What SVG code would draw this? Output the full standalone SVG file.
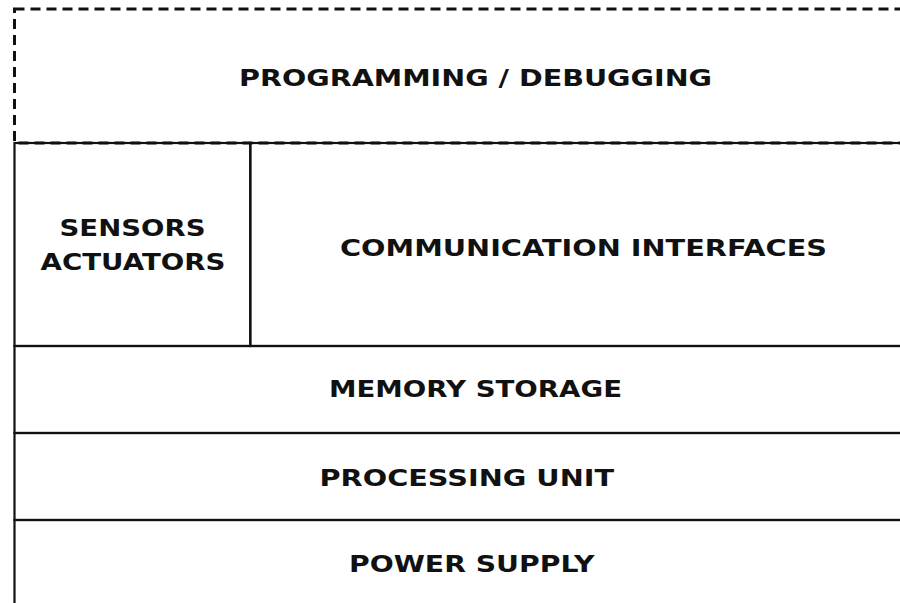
<svg xmlns="http://www.w3.org/2000/svg" width="900" height="603" viewBox="0 0 900 603">
  <style>
    .box { fill: none; stroke: #111; stroke-width: 2.2; }
    .dash { fill: none; stroke: #111; stroke-width: 3; stroke-dasharray: 10 6; }
    .lbl { font-family: "DejaVu Sans", Verdana, sans-serif; font-weight: bold; font-size: 23.5px; fill: #111; }
  </style>
  <rect x="0" y="0" width="900" height="603" fill="#ffffff"/>
  <g id="programming-debugging">
    <rect class="dash" x="14.5" y="9" width="940" height="134"/>
    <text class="lbl" x="239" y="86" textLength="473" lengthAdjust="spacingAndGlyphs">PROGRAMMING / DEBUGGING</text>
  </g>
  <g id="sensors-actuators">
    <rect class="box" x="14.5" y="143" width="235.8" height="203"/>
    <text class="lbl" x="59.5" y="236" textLength="146" lengthAdjust="spacingAndGlyphs">SENSORS</text>
    <text class="lbl" x="40.5" y="270" textLength="185" lengthAdjust="spacingAndGlyphs">ACTUATORS</text>
  </g>
  <g id="communication-interfaces">
    <rect class="box" x="250.3" y="143" width="700" height="203"/>
    <text class="lbl" x="340" y="256" textLength="487" lengthAdjust="spacingAndGlyphs">COMMUNICATION INTERFACES</text>
  </g>
  <g id="memory-storage">
    <rect class="box" x="14.5" y="346" width="940" height="87"/>
    <text class="lbl" x="329" y="396.5" textLength="293" lengthAdjust="spacingAndGlyphs">MEMORY STORAGE</text>
  </g>
  <g id="processing-unit">
    <rect class="box" x="14.5" y="433" width="940" height="87"/>
    <text class="lbl" x="319.5" y="486" textLength="294.5" lengthAdjust="spacingAndGlyphs">PROCESSING UNIT</text>
  </g>
  <g id="power-supply">
    <rect class="box" x="14.5" y="520" width="940" height="100"/>
    <text class="lbl" x="349" y="572" textLength="245.5" lengthAdjust="spacingAndGlyphs">POWER SUPPLY</text>
  </g>
</svg>
